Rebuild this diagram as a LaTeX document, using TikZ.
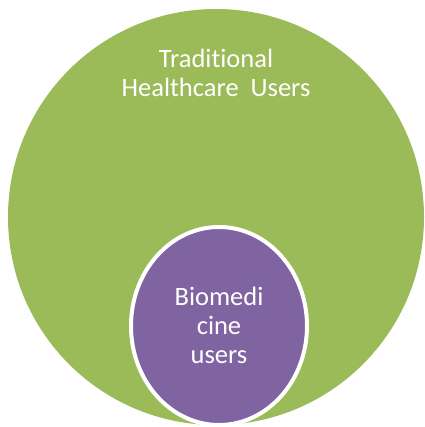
\documentclass[tikz,border=0pt]{standalone}
\usepackage{fontspec}
\setmainfont{Carlito}[Ligatures=NoCommon]
\definecolor{outergreen}{HTML}{9BBB59}
\definecolor{innerpurple}{HTML}{8064A2}
\tikzset{
  px/.style={x=1pt,y=-1pt},
  setlabel/.style={text=white,align=center,font=\fontsize{26.5}{29}\selectfont},
}
\begin{document}
\begin{tikzpicture}[px]
  \useasboundingbox (0,0) rectangle (424,427);
  % outer set
  \fill[outergreen] (216,217) ellipse [x radius=208, y radius=208];
  \node[setlabel] (outer) at (216,73) {Traditional\\Healthcare~~Users};
  % inner set with white rim
  \fill[innerpurple, draw=white, line width=4pt] (219,326) ellipse [x radius=88, y radius=99];
  \node[setlabel] (inner) at (219,325) {Biomedi\\cine\\users};
\end{tikzpicture}
\end{document}
